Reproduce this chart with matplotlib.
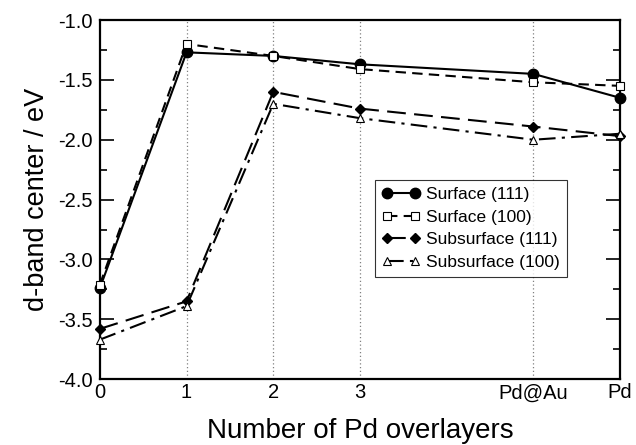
import matplotlib
matplotlib.use("Agg")
import matplotlib.pyplot as plt
from matplotlib.ticker import MultipleLocator

plt.rcParams['font.family'] = ['Liberation Sans', 'DejaVu Sans']

x_pos = [0, 1, 2, 3, 5, 6]
x_labels = ["0", "1", "2", "3", "Pd@Au", "Pd"]
surface_111 = [-3.24, -1.27, -1.30, -1.37, -1.45, -1.65]
surface_100 = [-3.21, -1.20, -1.30, -1.41, -1.52, -1.55]
subsurface_111 = [-3.58, -3.35, -1.60, -1.74, -1.89, -1.97]
subsurface_100 = [-3.67, -3.39, -1.70, -1.82, -2.00, -1.95]
grid_x = [1, 2, 3, 5]

fig = plt.figure(figsize=(6.36, 4.45), dpi=100)
ax = fig.add_axes([0.157, 0.148, 0.818, 0.807])

for gx in grid_x:
    ax.axvline(gx, color='gray', linestyle=(0, (1, 2)), linewidth=0.9, zorder=0)

ax.plot(x_pos, surface_111, color='black', linestyle='-', linewidth=1.5,
        marker='o', markersize=7.5, markerfacecolor='black', label='Surface (111)',
        clip_on=False, zorder=3)
ax.plot(x_pos, surface_100, color='black', linestyle=(0, (5, 3)), linewidth=1.5,
        marker='s', markersize=5.5, markerfacecolor='white', markeredgewidth=0.8,
        label='Surface (100)', clip_on=False, zorder=3)
ax.plot(x_pos, subsurface_111, color='black', linestyle=(0, (9, 4)), linewidth=1.5,
        marker='D', markersize=5.5, markerfacecolor='black', label='Subsurface (111)',
        clip_on=False, zorder=3)
ax.plot(x_pos, subsurface_100, color='black', linestyle=(0, (8, 3, 1.5, 3)), linewidth=1.5,
        marker='^', markersize=6, markerfacecolor='white', markeredgewidth=0.8,
        label='Subsurface (100)', clip_on=False, zorder=3)

ax.set_xlim(0, 6)
ax.set_ylim(-4.0, -1.0)
ax.set_xticks(x_pos)
ax.set_xticklabels(x_labels)
ax.yaxis.set_major_locator(MultipleLocator(0.5))
ax.yaxis.set_minor_locator(MultipleLocator(0.25))
ax.yaxis.set_major_formatter(matplotlib.ticker.FormatStrFormatter('%.1f'))
ax.tick_params(axis='y', which='major', direction='in', length=10, width=1.2,
               left=True, right=True, labelsize=14.5, pad=5)
ax.tick_params(axis='y', which='minor', direction='in', length=5, width=1.2,
               left=True, right=True)
ax.tick_params(axis='x', which='major', direction='in', length=0, labelsize=14.5, pad=3)
for sp in ax.spines.values():
    sp.set_linewidth(1.6)

ax.set_xlabel('Number of Pd overlayers', fontsize=20, labelpad=11)
ax.set_ylabel('d-band center / eV', fontsize=19.5, labelpad=6)

leg = ax.legend(loc='upper left', bbox_to_anchor=(0.529, 0.554), numpoints=2,
                frameon=True, fancybox=False, edgecolor='black', fontsize=12.5,
                handlelength=2.2, handletextpad=0.35, borderpad=0.4, labelspacing=0.42,
                borderaxespad=0)
leg.get_frame().set_linewidth(0.8)

fig.savefig('out.png', dpi=100)
